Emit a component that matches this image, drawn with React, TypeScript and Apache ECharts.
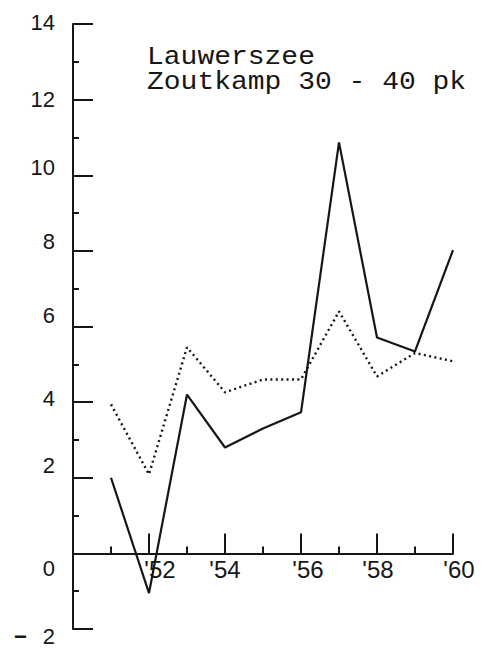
import React, { useEffect, useRef } from "react";
import * as echarts from "echarts";

const years = [1951, 1952, 1953, 1954, 1955, 1956, 1957, 1958, 1959, 1960];
const solidValues = [2.0, -1.05, 4.2, 2.8, 3.3, 3.73, 10.87, 5.71, 5.34, 8.02];
const dottedValues = [3.94, 2.09, 5.45, 4.26, 4.6, 4.6, 6.4, 4.68, 5.3, 5.08];
const titleLines = ["Lauwerszee", "Zoutkamp 30 - 40 pk"];
const yTicks = [-2, 0, 2, 4, 6, 8, 10, 12, 14];
const xTicks = [1952, 1954, 1956, 1958, 1960];

// vertical nudges of hand-lettered y labels (style only)
const yLabelShift: Record<string, number> = {
  "14": -2, "12": 0, "10": -8, "8": -9, "6": -11, "4": -4, "2": -12, "0": 15, "-2": 7,
};
// horizontal nudges of hand-lettered x labels (style only)
const xLabelShift: Record<string, number> = {
  "1952": 11, "1954": 0, "1956": 7, "1958": 1, "1960": 6,
};

const ink = "#161616";
const gridTop = 24;
const gridBottom = 19;
const chartH = 648;

function richKey(v: number) {
  return v < 0 ? "n" + Math.abs(v) : "p" + v;
}

export default function App() {
  const ref = useRef<HTMLDivElement>(null);
  useEffect(() => {
    if (!ref.current) return;
    const chart = echarts.init(ref.current, undefined, { renderer: "svg" });
    const rich: Record<string, any> = {};
    yTicks.forEach((v) => {
      const s = yLabelShift[String(v)] || 0;
      rich[richKey(v)] = {
        fontFamily: "Liberation Sans",
        fontSize: 22,
        color: ink,
        padding: s >= 0 ? [2 * s, 0, 0, 0] : [0, 0, -2 * s, 0],
      };
    });
    rich.dash = {
      fontFamily: "Liberation Sans",
      fontSize: 22,
      fontWeight: "bold",
      color: ink,
      padding: [2 * 7, 16, 0, 0],
    };
    const xRich: Record<string, any> = {};
    xTicks.forEach((v) => {
      const s = xLabelShift[String(v)] || 0;
      xRich["x" + v] = {
        fontFamily: "Liberation Sans",
        fontSize: 24,
        color: ink,
        padding: s >= 0 ? [0, 0, 0, 2 * s] : [0, -2 * s, 0, 0],
      };
    });
    const yMin = -2;
    const yMax = 14;
    const plotH = chartH - gridTop - gridBottom;
    // lift the x axis from the grid bottom (y = -2) to y = 0
    const xAxisLift = (plotH * (0 - yMin)) / (yMax - yMin);
    chart.setOption({
      animation: false,
      grid: { left: 73, right: 33, top: gridTop, bottom: gridBottom, outerBoundsMode: "none", containLabel: false },
      xAxis: {
        type: "value",
        min: 1950,
        max: 1960,
        interval: 2,
        offset: -xAxisLift,
        splitLine: { show: false },
        axisLine: { show: true, onZero: false, lineStyle: { color: ink, width: 2 } },
        axisTick: { show: true, inside: true, length: 20, lineStyle: { color: ink, width: 2 } },
        minorTick: { show: true, splitNumber: 2, length: 7, lineStyle: { color: ink, width: 2 } },
        axisLabel: {
          margin: 4,
          rich: xRich,
          formatter: (v: number) => (v === 1950 ? "" : "{x" + v + "|'" + String(v).slice(2) + "}"),
        },
      },
      yAxis: {
        type: "value",
        min: yMin,
        max: yMax,
        interval: 2,
        splitLine: { show: false },
        axisLine: { show: true, lineStyle: { color: ink, width: 2 } },
        axisTick: { show: true, inside: true, length: 20, lineStyle: { color: ink, width: 2 } },
        minorTick: { show: true, splitNumber: 2, length: 6, lineStyle: { color: ink, width: 2 } },
        axisLabel: {
          margin: 18,
          rich,
          formatter: (v: number) =>
            v < 0
              ? "{dash|\u2212}{" + richKey(v) + "|" + Math.abs(v) + "}"
              : "{" + richKey(v) + "|" + v + "}",
        },
      },
      graphic: titleLines.map((t, i) => ({
        type: "text",
        x: 147,
        y: 45 + i * 25,
        scaleX: 1.12,
        style: {
          text: t,
          fontFamily: "Liberation Mono",
          fontSize: 25,
          fill: ink,
          verticalAlign: "top",
        },
      })),
      series: [
        {
          type: "line",
          data: years.map((y, i) => [y, solidValues[i]]),
          symbol: "none",
          lineStyle: { color: ink, width: 2.2 },
        },
        {
          type: "line",
          data: years.map((y, i) => [y, dottedValues[i]]),
          symbol: "none",
          lineStyle: { color: ink, width: 2.4, type: [2, 3.4] },
        },
      ],
    });
    return () => chart.dispose();
  }, []);
  return (
    <div
      ref={ref}
      style={{ position: "fixed", left: 0, top: 0, width: 486, height: 648, background: "#fff" }}
    />
  );
}
